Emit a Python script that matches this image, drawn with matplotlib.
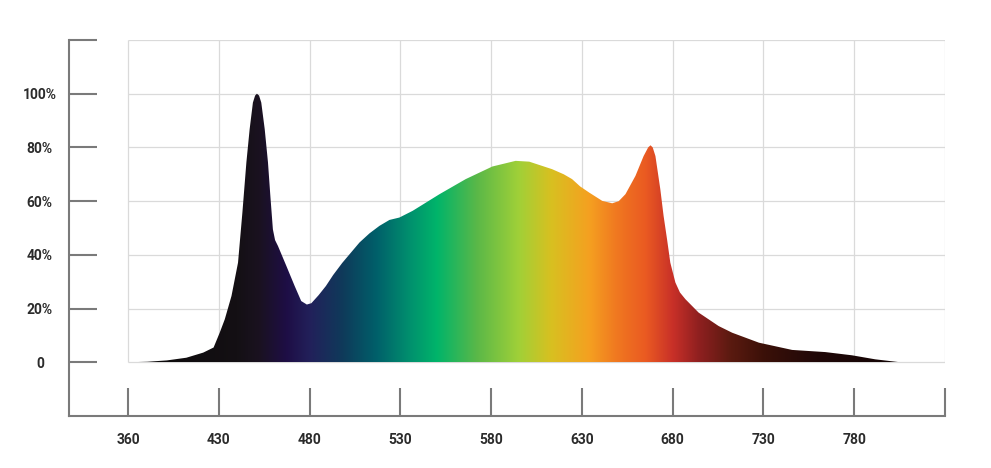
import numpy as np
import matplotlib.pyplot as plt
from matplotlib.patches import Polygon
from matplotlib.colors import to_rgb

# spectrum (nm, relative %)
wavelength = np.array([360, 375, 390, 405, 418, 426, 430.5, 433.3, 437, 440.6, 443, 445.2, 447,
                       448.8, 450, 451, 452.2, 453.4, 455.3, 457.1, 458.4, 459.8, 461, 462.6,
                       467.2, 471.8, 475.4, 478.5, 481, 485, 489, 493, 498, 503, 507.5, 513, 518.5,
                       524, 529.5, 536.8, 551.6, 566, 580.7, 593.5, 601, 613.6, 620, 624.6, 629, 634,
                       641.2, 646.7, 650.3, 654, 659.5, 664, 666.5, 667.8, 669, 670.5, 673.2, 675,
                       676.9, 678.7, 681.5, 684, 687, 694.3, 705.3, 712.8, 727.5, 745.8, 764.1,
                       778.8, 791.6, 805.4])
intensity = np.array([0, 0.2, 0.7, 1.7, 3.6, 5.5, 11, 16, 24.7, 37.1, 55.7, 74.4, 86.8,
                      96.7, 99.3, 100, 99.3, 96.7, 86.8, 74.4, 62, 49.5, 45.5, 43.3,
                      35.9, 28.4, 22.8, 21.5, 22, 25, 28.4, 32.5, 37, 41, 44.6, 48, 50.8,
                      53, 53.9, 56.4, 62.6, 68.2, 72.9, 75, 74.7, 71.9, 70, 68.2, 65.5, 63.2,
                      60.1, 59.2, 60, 62.6, 69.4, 76.8, 80, 80.8, 80, 76.8, 64.4, 54.5,
                      45.8, 37.1, 29.7, 26, 23.5, 18.5, 13.5, 11, 7.3, 4.6, 3.8,
                      2.6, 1.1, 0])

tick_nm = [360, 430, 480, 530, 580, 630, 680, 730, 780]
y_ticks = [0, 20, 40, 60, 80, 100, 120]
y_labels = ['0', '20%', '40%', '60%', '80%', '100%', '']

# colour stops of the fill
grad_nm = [360, 440, 452, 467, 480, 498, 517, 535, 550, 572, 595, 613, 634, 649, 665, 680, 694,
           712, 731, 759, 805]
grad_col = ['#0a0808', '#141014', '#1a1220', '#1e0e45', '#22205a', '#0f3a5a', '#00606a',
            '#00906e', '#00b46a', '#5ab848', '#a0d038', '#d8c020', '#f5a020', '#f07820',
            '#ea5a22', '#c83028', '#902020', '#5a1a10', '#3a1008', '#200808', '#120404']

# the x axis is evenly spaced by tick, not by nm
scale_nm = tick_nm + [830]
def to_pos(nm):
    return np.interp(nm, scale_nm, np.arange(len(scale_nm)))

plt.rcParams['font.family'] = ['Roboto', 'DejaVu Sans']

fig = plt.figure(figsize=(9.91, 4.68), dpi=100)
ax = fig.add_axes([69/991, 1-416/468, (945-69)/991, (416-40)/468])
ax.set_xlim(-0.65, 9.0)
ax.set_ylim(-20, 120)

# grid
ax.vlines(range(10), 0, 120, color='#dadada', lw=0.9, zorder=1)
ax.hlines(y_ticks, 0, 9, color='#dadada', lw=0.9, zorder=1)

# gradient fill clipped to the curve
xs = to_pos(wavelength)
poly = Polygon(np.column_stack([xs, intensity]), closed=True, facecolor='none', edgecolor='none')
ax.add_patch(poly)
xg = np.linspace(xs[0], xs[-1], 1200)
gp = to_pos(np.array(grad_nm))
rgb = np.array([to_rgb(c) for c in grad_col])
img = np.stack([np.interp(xg, gp, rgb[:, k]) for k in range(3)], axis=-1)[None, :, :]
im = ax.imshow(img, extent=[xs[0], xs[-1], 0, 101], aspect='auto', interpolation='bilinear', zorder=2)
im.set_clip_path(poly)

for s in ['top', 'right']:
    ax.spines[s].set_visible(False)
for s in ['left', 'bottom']:
    ax.spines[s].set_color('#7a7a7a')
    ax.spines[s].set_linewidth(1.5)

ax.set_xticks(range(10))
ax.set_xticklabels([str(v) for v in tick_nm] + [''])
ax.set_yticks(y_ticks)
ax.set_yticklabels(y_labels)
ax.tick_params(direction='in', length=20, width=1.5, color='#7a7a7a',
               labelsize=10, labelcolor='#2b2b2b')
ax.tick_params(axis='x', pad=12)
ax.tick_params(axis='y', pad=21)
for lbl in ax.get_yticklabels() + ax.get_xticklabels():
    lbl.set_fontweight('bold')
for lbl in ax.get_yticklabels():
    lbl.set_horizontalalignment('center')

fig.savefig('out.png', dpi=100)
